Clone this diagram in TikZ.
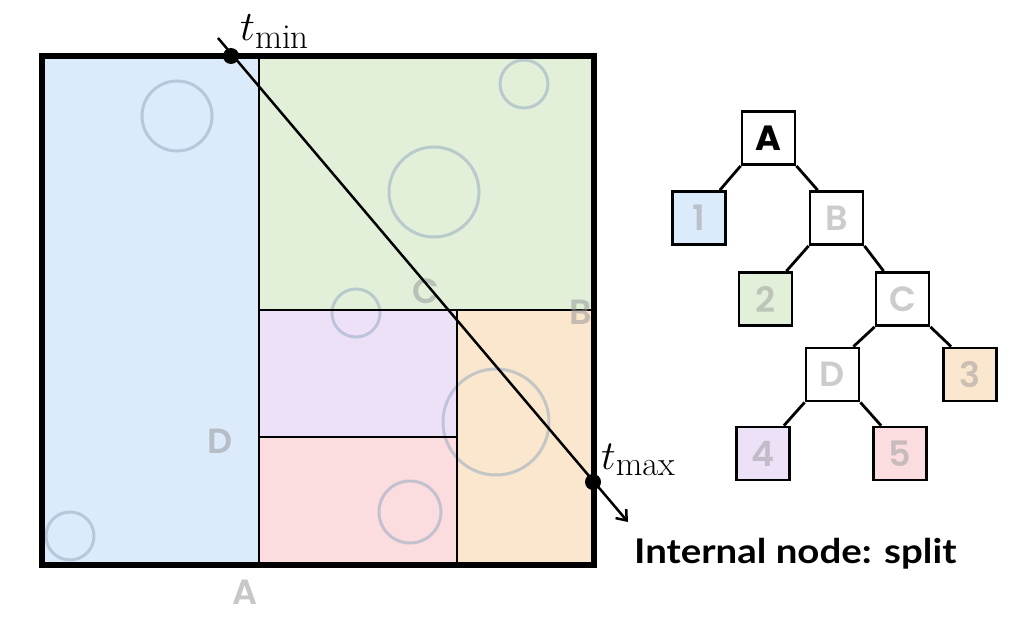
\documentclass[tikz,border=0pt]{standalone}
\usepackage{fontspec}
\newfontfamily\pop{Poppins}
\newfontfamily\popsb{Poppins SemiBold}
\newfontfamily\lato{Lato}
\usetikzlibrary{arrows.meta,calc}
\definecolor{cblue}{HTML}{DCEBFB}
\definecolor{cgreen}{HTML}{E2F0D9}
\definecolor{cpurple}{HTML}{EDE1F8}
\definecolor{cpink}{HTML}{FBDDDF}
\definecolor{corange}{HTML}{FBE6CE}
\definecolor{ccirc}{HTML}{8FA6BE}
\definecolor{cletter}{HTML}{999999}
\tikzset{
  region/.style={draw=black, line width=2.7pt},
  bubble/.style={draw=ccirc, draw opacity=0.5, line width=3pt},
  ghost/.style={text=cletter, text opacity=0.55, inner sep=0pt, anchor=base, font=\popsb\fontsize{35}{40}\selectfont},
  treebox/.style={draw=black, line width=2.8pt, minimum size=53pt, inner sep=0pt, font=\popsb\fontsize{35}{40}\selectfont},
  dimtext/.style={text=cletter, text opacity=0.5},
  treeedge/.style={line width=2.8pt},
  dot/.style={circle, fill=black, minimum size=16pt, inner sep=0pt},
  tlabel/.style={inner sep=0pt, anchor=base west, font=\fontsize{24.88}{30}\selectfont}
}
\begin{document}
\begin{tikzpicture}[x=1pt,y=-1pt]
\useasboundingbox (0,0) rectangle (1023,616);
% regions
\fill[cblue] (42,56) rectangle (259,565);
\fill[cgreen] (259,56) rectangle (594,310);
\fill[cpurple] (259,310) rectangle (457,437);
\fill[cpink] (259,437) rectangle (457,565);
\fill[corange] (457,310) rectangle (594,565);
% bubbles
\draw[bubble] (177,116) circle[radius=35pt];
\draw[bubble] (70,536) circle[radius=24pt];
\draw[bubble] (434,192) circle[radius=45pt];
\draw[bubble] (524,84) circle[radius=24pt];
\draw[bubble] (356,313) circle[radius=24pt];
\draw[bubble] (496,422) circle[radius=53pt];
\draw[bubble] (410,512) circle[radius=31pt];
% split lines
\draw[region] (259,56) -- (259,565);
\draw[region] (259,310) -- (594,310);
\draw[region] (457,310) -- (457,565);
\draw[region] (259,437) -- (457,437);
\draw[line width=5.5pt] (42,56) rectangle (594,565);
% split labels
\node[ghost] (lc) at (426,303) {C};
\node[ghost] (lb) at (581,324) {B};
\node[ghost] (ld) at (220,453) {D};
\node[ghost] (la) at (245,604) {A};
% ray
\coordinate (rs) at (218,38);
\coordinate (re) at (628,522);
\draw[line width=2.5pt, -{Straight Barb[length=9pt,width=14pt,line width=2.5pt]}] (rs) -- (re);
\node[dot] (tmin) at (231,56) {};
\node[dot] (tmax) at (593,482) {};
\node[tlabel] (ltmin) at (240,40) {\scalebox{1.69}{$t_{\min}$}};
\node[tlabel] (ltmax) at (601,469) {\scalebox{1.66}{$t_{\max}$}};
\node[inner sep=0pt, anchor=base west, font=\lato\bfseries\fontsize{34}{40}\selectfont] (cap) at (634,563) {\scalebox{1.13}[1]{Internal node: split}};
% tree
\node[treebox, font=\pop\bfseries\fontsize{35}{40}\selectfont] (nA) at (768.5,138) {A};
\node[treebox, fill=cblue, dimtext] (n1) at (699,218) {1};
\node[treebox, dimtext] (nB) at (836.5,218) {B};
\node[treebox, fill=cgreen, dimtext] (n2) at (765.5,299) {2};
\node[treebox, dimtext] (nC) at (902.5,299) {C};
\node[treebox, dimtext] (nD) at (832.5,374.5) {D};
\node[treebox, fill=corange, dimtext] (n3) at (970,374.5) {3};
\node[treebox, fill=cpurple, dimtext] (n4) at (763,453.5) {4};
\node[treebox, fill=cpink, dimtext] (n5) at (900,453.5) {5};
\draw[treeedge] (nA.south west) -- ([xshift=-7pt]n1.north east);
\draw[treeedge] (nA.south east) -- ([xshift=9pt]nB.north west);
\draw[treeedge] (nB.south west) -- ([xshift=-7pt]n2.north east);
\draw[treeedge] (nB.south east) -- ([xshift=9pt]nC.north west);
\draw[treeedge] (nC.south west) -- ([xshift=-7pt]nD.north east);
\draw[treeedge] (nC.south east) -- ([xshift=9pt]n3.north west);
\draw[treeedge] (nD.south west) -- ([xshift=-7pt]n4.north east);
\draw[treeedge] (nD.south east) -- ([xshift=9pt]n5.north west);
\end{tikzpicture}
\end{document}
